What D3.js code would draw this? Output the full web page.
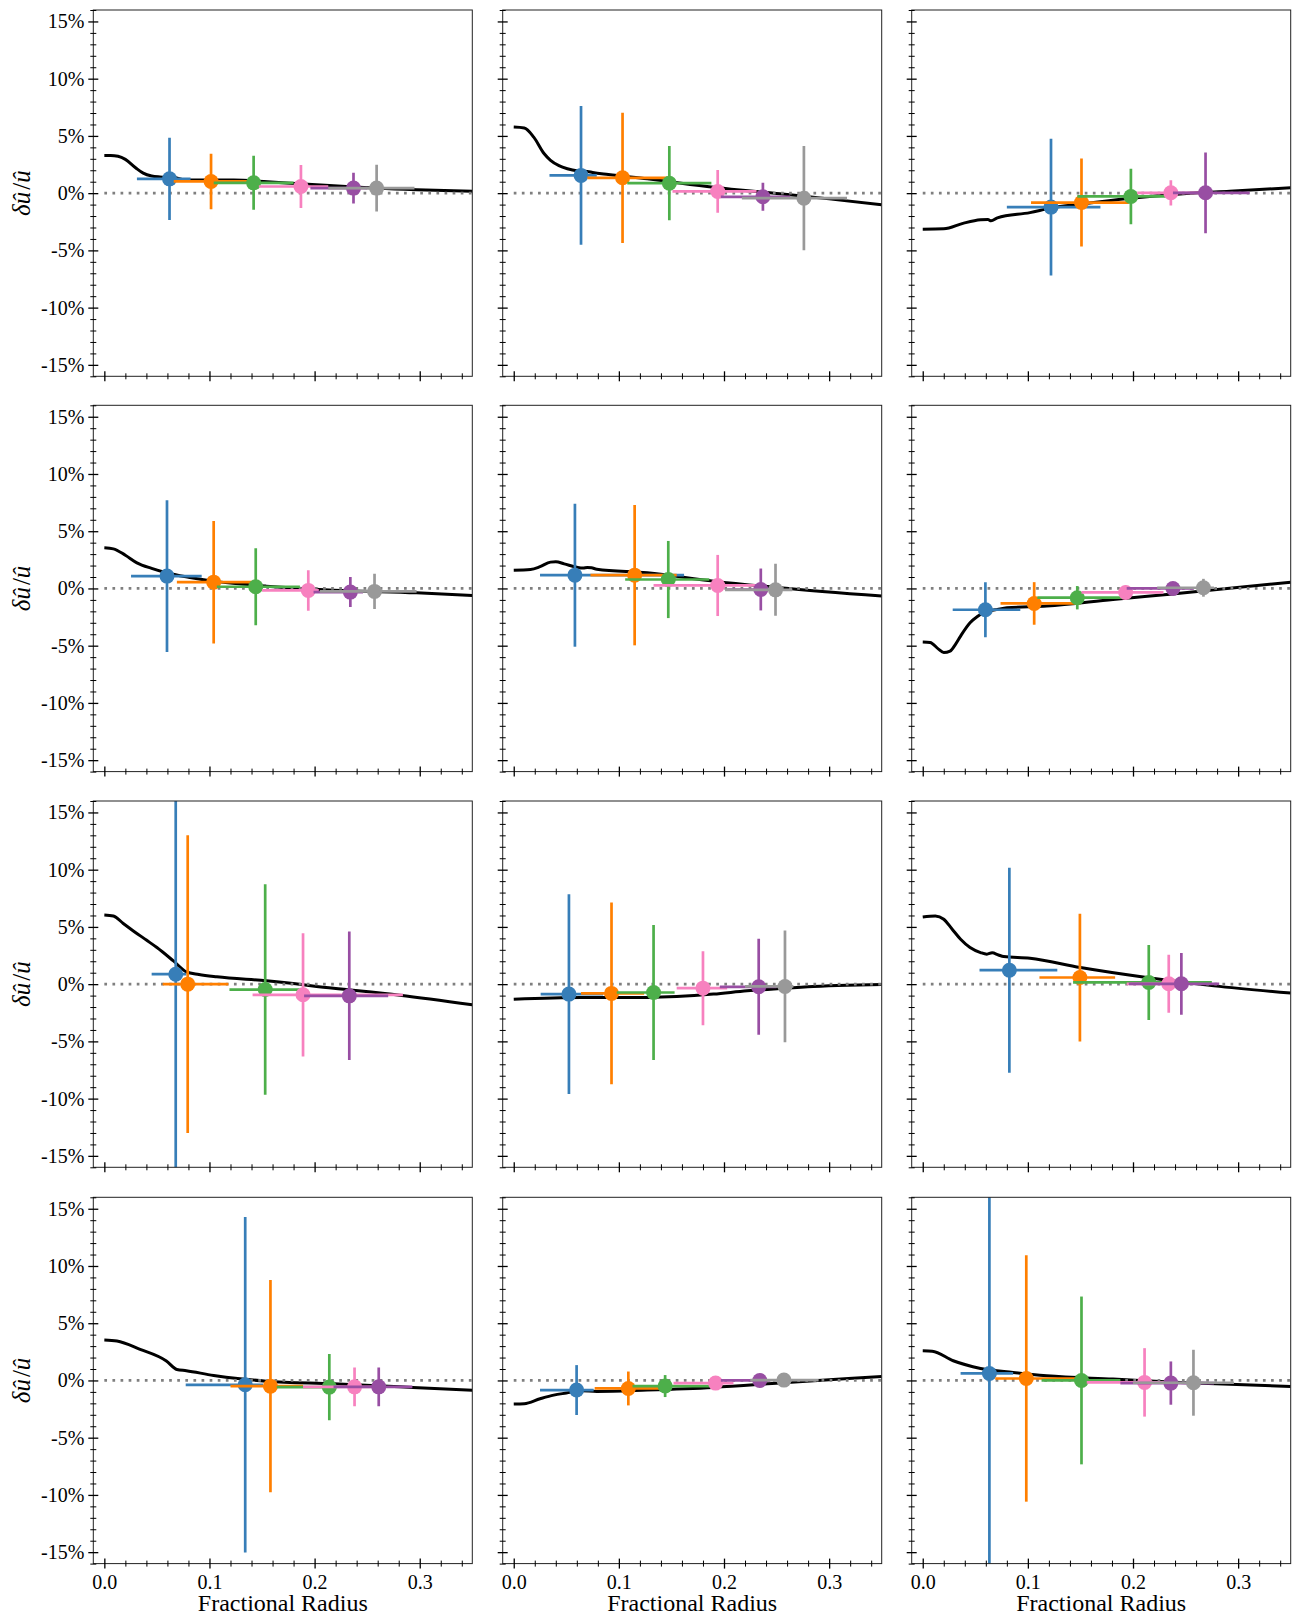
<!DOCTYPE html>
<html>
<head>
<meta charset="utf-8">
<script src="https://cdn.jsdelivr.net/npm/d3@7"></script>
<style>
  html, body { margin: 0; padding: 0; background: #fff; }
</style>
</head>
<body>
<svg id="fig" width="1294" height="1618"></svg>
<script>
// Series colours (one per kernel / point index)
const seriesColors = ['#377eb8', '#ff7f00', '#4daf4a', '#f781bf', '#984ea3', '#999999'];
const SERIF = '"Liberation Serif"';

// Tick values
const xMajorTicks = [0.0, 0.1, 0.2, 0.3];
const yMajorTicks = [-15, -10, -5, 0, 5, 10, 15];
const xDomain = [-0.0105, 0.35];
const yDomain = [-16, 16];

// Model curves: [fractional radius, delta u / u in %]
const curveR1C1 = [[0,3.29],[0.006,3.29],[0.013,3.22],[0.02,2.95],[0.03,2.2],[0.037,1.75],[0.045,1.5],[0.053,1.42],[0.062,1.38],[0.068,1.35],[0.077,1.15],[0.09,1.15],[0.123,1.14],[0.155,1.0],[0.186,0.82],[0.21,0.68],[0.234,0.55],[0.26,0.42],[0.297,0.29],[0.35,0.17]];
const curveR1C2 = [[0,5.77],[0.01,5.69],[0.019,4.9],[0.029,3.44],[0.035,2.86],[0.043,2.4],[0.051,2.13],[0.06,1.95],[0.07,1.9],[0.075,1.8],[0.09,1.62],[0.127,1.25],[0.19,0.52],[0.253,-0.06],[0.3,-0.5],[0.35,-1.02]];
const curveR1C3 = [[0,-3.15],[0.02,-3.12],[0.039,-2.62],[0.055,-2.33],[0.062,-2.3],[0.065,-2.42],[0.071,-2.16],[0.102,-1.7],[0.122,-1.3],[0.151,-0.95],[0.198,-0.45],[0.245,-0.08],[0.292,0.17],[0.35,0.47]];
const curveR2C1 = [[0,3.55],[0.0086,3.46],[0.02,2.9],[0.031,2.24],[0.045,1.75],[0.059,1.37],[0.08,0.98],[0.104,0.64],[0.13,0.38],[0.154,0.2],[0.218,-0.15],[0.297,-0.38],[0.35,-0.61]];
const curveR2C2 = [[0,1.6],[0.016,1.66],[0.025,1.9],[0.035,2.3],[0.04,2.33],[0.048,2.15],[0.06,1.85],[0.066,1.78],[0.07,1.83],[0.074,1.8],[0.079,1.68],[0.127,1.37],[0.19,0.64],[0.253,0.06],[0.35,-0.67]];
const curveR2C3 = [[0,-4.68],[0.007,-4.72],[0.015,-5.3],[0.02,-5.6],[0.026,-5.47],[0.031,-4.9],[0.036,-4.16],[0.045,-3.0],[0.052,-2.45],[0.058,-2.12],[0.064,-1.95],[0.071,-1.83],[0.08,-1.69],[0.118,-1.54],[0.181,-0.96],[0.235,-0.5],[0.35,0.55]];
const curveR3C1 = [[0,6.05],[0.0086,5.96],[0.018,5.3],[0.0276,4.65],[0.04,3.85],[0.05,3.2],[0.0657,2.03],[0.078,1.08],[0.09,0.85],[0.107,0.64],[0.154,0.29],[0.218,-0.35],[0.281,-0.96],[0.35,-1.8]];
const curveR3C2 = [[0,-1.31],[0.064,-1.16],[0.127,-1.16],[0.19,-0.87],[0.222,-0.58],[0.253,-0.38],[0.285,-0.2],[0.317,-0.09],[0.35,-0.03]];
const curveR3C3 = [[0,5.87],[0.012,5.96],[0.02,5.67],[0.028,4.8],[0.036,3.92],[0.045,3.2],[0.055,2.76],[0.061,2.62],[0.066,2.74],[0.072,2.55],[0.077,2.41],[0.102,2.27],[0.15,1.45],[0.213,0.58],[0.277,-0.15],[0.35,-0.78]];
const curveR4C1 = [[0,3.54],[0.012,3.45],[0.034,2.72],[0.059,1.7],[0.069,0.96],[0.078,0.85],[0.104,0.44],[0.129,0.15],[0.154,-0.06],[0.218,-0.29],[0.281,-0.56],[0.35,-0.85]];
const curveR4C2 = [[0,-2.06],[0.01,-2.03],[0.025,-1.6],[0.038,-1.28],[0.05,-1.1],[0.064,-0.9],[0.079,-0.96],[0.127,-0.84],[0.19,-0.61],[0.253,-0.23],[0.35,0.35]];
const curveR4C3 = [[0,2.59],[0.009,2.56],[0.029,1.72],[0.055,1.05],[0.086,0.7],[0.118,0.41],[0.181,0.12],[0.245,-0.17],[0.35,-0.52]];

// Inversion points: [radius, delta u / u %, error %, radius low, radius high]
const pointsR1C1 = [[0.062,1.25,3.6,0.031,0.082],[0.1015,1.02,2.42,0.066,0.142],[0.142,0.90,2.36,0.104,0.18],[0.187,0.58,1.87,0.147,0.213],[0.237,0.44,1.34,0.196,0.25],[0.259,0.44,2.04,0.213,0.295]];
const pointsR1C2 = [[0.064,1.55,6.06,0.034,0.079],[0.1035,1.34,5.69,0.07,0.146],[0.148,0.87,3.24,0.108,0.188],[0.194,0.15,1.87,0.151,0.231],[0.237,-0.32,1.22,0.197,0.263],[0.276,-0.44,4.55,0.217,0.317]];
const pointsR1C3 = [[0.122,-1.22,5.98,0.08,0.169],[0.151,-0.82,3.85,0.103,0.196],[0.198,-0.29,2.42,0.147,0.232],[0.236,0.03,1.1,0.204,0.273],[0.269,0.03,3.53,0.238,0.311]];
const pointsR2C1 = [[0.0596,1.08,6.63,0.0254,0.0926],[0.104,0.55,5.35,0.069,0.142],[0.144,0.15,3.37,0.107,0.186],[0.194,-0.17,1.77,0.15,0.204],[0.234,-0.32,1.31,0.199,0.246],[0.257,-0.26,1.54,0.205,0.297]];
const pointsR2C2 = [[0.0582,1.16,6.25,0.025,0.162],[0.115,1.16,6.13,0.073,0.155],[0.147,0.78,3.37,0.106,0.186],[0.194,0.26,2.67,0.133,0.231],[0.235,-0.09,1.83,0.203,0.253],[0.249,-0.12,2.27,0.201,0.265]];
const pointsR2C3 = [[0.0596,-1.86,2.41,0.0285,0.0928],[0.106,-1.31,1.86,0.074,0.15],[0.147,-0.81,1.02,0.109,0.193],[0.193,-0.35,0.6,0.151,0.229],[0.238,0.0,0.3,0.194,0.258],[0.267,0.06,0.78,0.223,0.277]];
const pointsR3C1 = [[0.0679,0.87,22,0.045,0.078],[0.0793,0.0,13.0,0.0555,0.118],[0.153,-0.47,9.19,0.119,0.186],[0.189,-0.93,5.38,0.141,0.284],[0.233,-1.02,5.61,0.19,0.27]];
const pointsR3C2 = [[0.0525,-0.87,8.72,0.0256,0.085],[0.093,-0.81,7.94,0.064,0.124],[0.133,-0.73,5.9,0.098,0.153],[0.18,-0.35,3.23,0.155,0.203],[0.233,-0.23,4.19,0.196,0.25],[0.258,-0.2,4.88,0.22,0.266]];
const pointsR3C3 = [[0.0824,1.22,8.95,0.054,0.128],[0.1495,0.58,5.58,0.111,0.183],[0.215,0.15,3.28,0.143,0.275],[0.234,0.03,2.53,0.194,0.24],[0.246,0.03,2.7,0.196,0.282]];
const pointsR4C1 = [[0.134,-0.38,14.65,0.0774,0.151],[0.158,-0.5,9.27,0.12,0.189],[0.214,-0.58,2.9,0.164,0.221],[0.238,-0.56,1.7,0.189,0.259],[0.261,-0.56,1.7,0.218,0.293]];
const pointsR4C2 = [[0.0598,-0.84,2.18,0.025,0.076],[0.109,-0.7,1.48,0.077,0.14],[0.144,-0.49,0.96,0.113,0.19],[0.192,-0.23,0.35,0.152,0.209],[0.234,0.0,0.25,0.197,0.244],[0.257,0.03,0.25,0.225,0.29]];
const pointsR4C3 = [[0.0634,0.61,20,0.036,0.086],[0.0985,0.17,10.76,0.069,0.15],[0.151,0.0,7.33,0.113,0.188],[0.211,-0.17,2.99,0.156,0.232],[0.236,-0.23,1.89,0.188,0.277],[0.2575,-0.2,2.88,0.2,0.296]];

const panels = [
  [curveR1C1, pointsR1C1], [curveR1C2, pointsR1C2], [curveR1C3, pointsR1C3],
  [curveR2C1, pointsR2C1], [curveR2C2, pointsR2C2], [curveR2C3, pointsR2C3],
  [curveR3C1, pointsR3C1], [curveR3C2, pointsR3C2], [curveR3C3, pointsR3C3],
  [curveR4C1, pointsR4C1], [curveR4C2, pointsR4C2], [curveR4C3, pointsR4C3]
];

// Grid geometry
const colLeft = [93.3, 502.7, 911.7];
const rowTop = [10, 405.3, 801, 1197.3];
const panelW = 379, panelH = 366.3;

const svg = d3.select('#fig');
const defs = svg.append('defs');

const yMinorTicks = d3.range(-16, 17).filter(v => v % 5 !== 0);
const xMinorTicks = d3.range(1, 18).map(k => k * 0.02).filter(v => Math.abs(v * 10 - Math.round(v * 10)) > 1e-6);

function serifText(sel, size) {
  sel.attr('font-family', SERIF).attr('font-size', size)
     .style('font-family', SERIF).style('font-size', size + 'px');
  return sel;
}

panels.forEach(([curve, points], i) => {
  const row = Math.floor(i / 3), col = i % 3;
  const L = colLeft[col], T = rowTop[row];
  const x = d3.scaleLinear().domain(xDomain).range([L, L + panelW]);
  const y = d3.scaleLinear().domain(yDomain).range([T + panelH, T]);

  const g = svg.append('g').attr('class', 'panel');

  defs.append('clipPath').attr('id', 'clip' + i)
    .append('rect').attr('x', L).attr('y', T).attr('width', panelW).attr('height', panelH);

  const plot = g.append('g').attr('clip-path', `url(#clip${i})`);

  // model curve
  plot.append('path')
    .datum(curve)
    .attr('fill', 'none')
    .attr('stroke', '#000')
    .attr('stroke-width', 3)
    .attr('stroke-linejoin', 'round')
    .attr('d', d3.line().x(d => x(d[0])).y(d => y(d[1])).curve(d3.curveMonotoneX));

  // zero reference
  plot.append('line')
    .attr('x1', x(0)).attr('x2', L + panelW)
    .attr('y1', y(0)).attr('y2', y(0))
    .attr('stroke', '#7f7f7f')
    .attr('stroke-width', 2.7)
    .attr('stroke-dasharray', '2.7 5.4');

  // error bars and markers
  points.forEach((p, j) => {
    const c = seriesColors[j];
    const s = plot.append('g');
    s.append('line')
      .attr('x1', x(p[3])).attr('x2', x(p[4]))
      .attr('y1', y(p[1])).attr('y2', y(p[1]))
      .attr('stroke', c).attr('stroke-width', 2.7);
    s.append('line')
      .attr('x1', x(p[0])).attr('x2', x(p[0]))
      .attr('y1', y(p[1] - p[2])).attr('y2', y(p[1] + p[2]))
      .attr('stroke', c).attr('stroke-width', 2.7);
    s.append('circle')
      .attr('cx', x(p[0])).attr('cy', y(p[1]))
      .attr('r', 7.5).attr('fill', c);
  });

  // frame
  g.append('rect')
    .attr('x', L).attr('y', T).attr('width', panelW).attr('height', panelH)
    .attr('fill', 'none').attr('stroke', '#222').attr('stroke-width', 1);

  // axes: ticks straddle the spines
  const ayMaj = g.append('g')
    .attr('transform', `translate(${L + 5},0)`)
    .call(d3.axisLeft(y).tickValues(yMajorTicks).tickSize(10).tickPadding(4)
      .tickFormat(col === 0 ? (d => d + '%') : () => ''));
  const ayMin = g.append('g')
    .attr('transform', `translate(${L + 3},0)`)
    .call(d3.axisLeft(y).tickValues(yMinorTicks).tickSize(6).tickFormat(() => ''));

  const axMaj = g.append('g')
    .attr('transform', `translate(0,${T + panelH - 5})`)
    .call(d3.axisBottom(x).tickValues(xMajorTicks).tickSize(10).tickPadding(6)
      .tickFormat(row === 3 ? d3.format('.1f') : () => ''));
  const axMin = g.append('g')
    .attr('transform', `translate(0,${T + panelH - 3})`)
    .call(d3.axisBottom(x).tickValues(xMinorTicks).tickSize(6).tickFormat(() => ''));

  [ayMaj, ayMin, axMaj, axMin].forEach(a => {
    a.select('.domain').remove();
    a.attr('font-family', null).attr('font-size', null);
    serifText(a.selectAll('text').attr('fill', '#000'), 20);
  });
  [ayMaj, axMaj].forEach(a => a.selectAll('line').attr('stroke', '#000').attr('stroke-width', 1.3));
  [ayMin, axMin].forEach(a => a.selectAll('line').attr('stroke', '#000').attr('stroke-width', 1));

  if (row === 3) {
    serifText(g.append('text'), 24)
      .attr('x', L + panelW / 2).attr('y', 1611)
      .attr('text-anchor', 'middle')
      .text('Fractional Radius');
  }
  if (col === 0) {
    const t = serifText(g.append('text'), 25)
      .attr('transform', `translate(30,${T + panelH / 2}) rotate(-90)`)
      .attr('text-anchor', 'middle');
    t.append('tspan').attr('font-style', 'italic').style('font-style', 'italic').text('δ');
    t.append('tspan').attr('font-style', 'italic').style('font-style', 'italic').text('û');
    t.append('tspan').attr('dx', 2).text('/');
    t.append('tspan').attr('font-style', 'italic').style('font-style', 'italic').text('û');
  }
});
</script>
</body>
</html>
